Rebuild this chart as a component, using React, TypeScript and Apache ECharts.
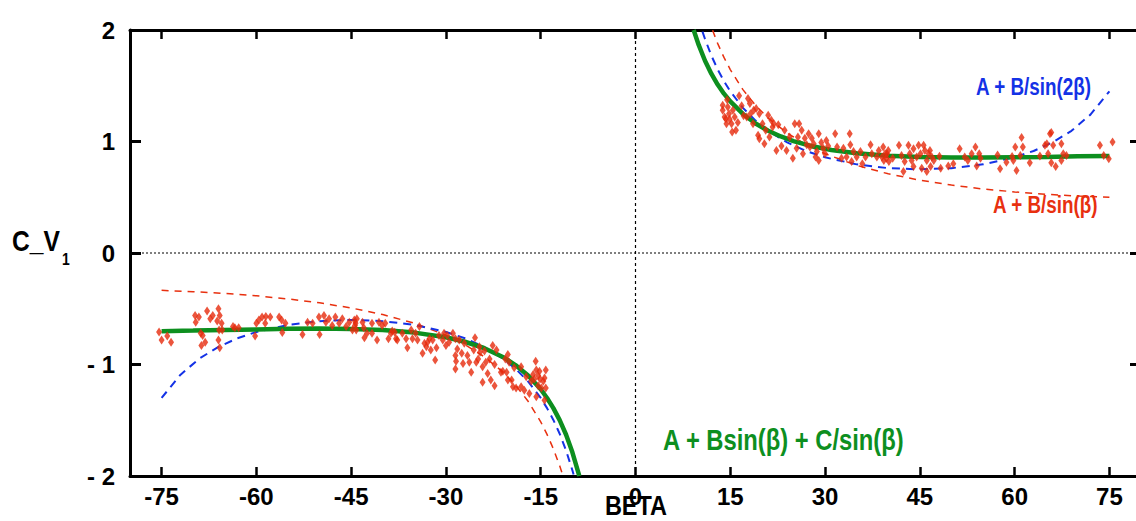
import React, { useEffect, useRef } from "react";
import * as echarts from "echarts";

const xTicks = [-75, -60, -45, -30, -15, 0, 15, 30, 45, 60, 75];
const yTicks = [-2, -1, 0, 1, 2];
const yInnerTicks = [-1, 0, 1];

// fit A + Bsin(b) + C/sin(b)
const greenLeft = [
  [-75, -0.701], [-70, -0.696], [-65, -0.69], [-60, -0.685], [-55, -0.68], [-50, -0.678],
  [-45, -0.681], [-40, -0.691], [-35, -0.714], [-30, -0.756], [-27, -0.796], [-24, -0.852],
  [-21, -0.932], [-19, -1.005], [-17, -1.099], [-15, -1.222], [-14, -1.3], [-13, -1.391],
  [-12, -1.499], [-11, -1.628], [-10, -1.785], [-9, -1.979], [-8.9, -2.0],
];
const greenRight = [
  [9.2, 2.0], [10, 1.866], [11, 1.724], [12, 1.608], [13, 1.511], [14, 1.429], [15, 1.36],
  [17, 1.247], [19, 1.162], [21, 1.096], [23, 1.045], [25, 1.004], [28, 0.957], [31, 0.924],
  [35, 0.894], [40, 0.872], [45, 0.86], [50, 0.856], [55, 0.856], [60, 0.859], [65, 0.862],
  [70, 0.867], [75, 0.87],
];
// fit A + B/sin(2b)
const blueLeft = [
  [-75, -1.3], [-72, -1.091], [-69, -0.946], [-66, -0.842], [-63, -0.765], [-60, -0.708],
  [-55, -0.645], [-50, -0.611], [-45, -0.6], [-40, -0.611], [-35, -0.645], [-30, -0.708],
  [-27, -0.765], [-24, -0.842], [-21, -0.946], [-19, -1.037], [-17, -1.152], [-15, -1.3],
  [-14, -1.391], [-13, -1.497], [-12, -1.621], [-11, -1.769], [-10, -1.947], [-9.8, -1.986],
];
const blueRight = [
  [10.6, 1.986], [11, 1.919], [12, 1.771], [13, 1.647], [14, 1.541], [15, 1.45], [17, 1.302],
  [19, 1.187], [21, 1.096], [24, 0.992], [27, 0.915], [30, 0.858], [35, 0.795], [40, 0.761],
  [45, 0.75], [50, 0.761], [55, 0.795], [60, 0.858], [63, 0.915], [66, 0.992], [69, 1.096],
  [72, 1.241], [75, 1.45],
];
// fit A + B/sin(b)
const redLeft = [
  [-75, -0.335], [-70, -0.347], [-65, -0.363], [-60, -0.384], [-55, -0.412], [-50, -0.447],
  [-45, -0.493], [-40, -0.552], [-35, -0.63], [-30, -0.737], [-27, -0.822], [-24, -0.928],
  [-21, -1.066], [-19, -1.184], [-17, -1.329], [-15, -1.514], [-14, -1.627], [-13, -1.756],
  [-12, -1.909], [-11.5, -1.994],
];
const redRight = [
  [12.2, 1.997], [13, 1.88], [14, 1.754], [15, 1.645], [17, 1.465], [19, 1.324], [21, 1.21],
  [24, 1.076], [27, 0.972], [30, 0.89], [35, 0.786], [40, 0.71], [45, 0.653], [50, 0.609],
  [55, 0.574], [60, 0.548], [65, 0.527], [70, 0.511], [75, 0.499],
];

const dataLeft = [
  [-75.4, -0.708], [-75.0, -0.78], [-74.1, -0.745], [-73.5, -0.8], [-69.7, -0.56], [-69.6, -0.62],
  [-69.1, -0.574], [-68.8, -0.72], [-68.5, -0.74], [-68.7, -0.83], [-68.1, -0.8], [-67.8, -0.52],
  [-67.3, -0.59], [-66.9, -0.56], [-66.0, -0.5], [-65.8, -0.56], [-66.2, -0.61], [-65.5, -0.63],
  [-65.9, -0.69], [-65.4, -0.69], [-66.0, -0.78], [-65.8, -0.85], [-63.7, -0.66], [-63.4, -0.67],
  [-62.8, -0.67], [-60.0, -0.63], [-59.6, -0.6], [-59.1, -0.574], [-58.5, -0.57], [-57.8, -0.574],
  [-60.2, -0.745], [-58.6, -0.63], [-56.4, -0.574], [-56.0, -0.6], [-55.9, -0.714], [-55.4, -0.63],
  [-52.7, -0.73], [-51.9, -0.62], [-51.1, -0.63], [-50.1, -0.574], [-50.0, -0.73], [-49.3, -0.56],
  [-49.0, -0.62], [-48.5, -0.59], [-48.0, -0.65], [-47.5, -0.574], [-46.9, -0.63], [-46.4, -0.59],
  [-45.8, -0.66], [-45.3, -0.62], [-44.8, -0.69], [-44.3, -0.63], [-44.1, -0.59], [-44.5, -0.6],
  [-44.4, -0.65], [-44.2, -0.69], [-43.2, -0.62], [-43.0, -0.67], [-42.9, -0.76], [-42.5, -0.72],
  [-41.7, -0.63], [-41.7, -0.72], [-40.9, -0.78], [-40.6, -0.62], [-40.1, -0.65], [-39.6, -0.63],
  [-39.1, -0.77], [-38.7, -0.72], [-38.5, -0.7], [-38.1, -0.71], [-37.9, -0.77], [-37.7, -0.78],
  [-36.9, -0.72], [-36.3, -0.77], [-36.1, -0.85], [-35.5, -0.69], [-35.3, -0.77], [-34.8, -0.72],
  [-34.5, -0.78], [-34.2, -0.66], [-33.7, -0.9], [-33.4, -0.81], [-33.1, -0.84], [-32.9, -0.8],
  [-32.6, -0.77], [-32.4, -0.87], [-32.1, -0.78], [-31.7, -0.96], [-31.5, -0.85], [-31.1, -0.74],
  [-30.5, -0.78], [-30.3, -0.72], [-30.0, -0.83], [-29.8, -0.74], [-29.5, -0.8], [-28.9, -0.72],
  [-28.5, -0.77], [-28.5, -0.92], [-28.4, -0.97], [-28.5, -1.04], [-28.2, -0.86], [-27.9, -0.78],
  [-27.5, -0.9], [-27.3, -0.99], [-27.1, -0.81], [-26.6, -0.92], [-26.3, -0.98], [-26.0, -1.07],
  [-25.6, -0.87], [-25.4, -0.76], [-25.2, -0.98], [-24.9, -0.95], [-24.7, -0.84], [-24.6, -0.89],
  [-24.2, -1.02], [-24.2, -1.16], [-23.9, -0.88], [-23.7, -0.98], [-23.4, -1.08], [-23.1, -0.95],
  [-22.9, -1.14], [-22.6, -0.83], [-22.3, -1.0], [-22.3, -1.19], [-22.0, -0.87], [-21.3, -1.07],
  [-21.0, -1.06], [-20.6, -0.95], [-20.4, -1.07], [-20.2, -0.91], [-20.2, -1.14], [-20.0, -0.98],
  [-19.6, -1.14], [-19.4, -1.2], [-19.2, -1.03], [-18.9, -1.21], [-18.1, -1.02], [-18.1, -1.2],
  [-17.6, -1.23], [-17.3, -1.11], [-16.8, -1.26], [-16.5, -1.15], [-16.2, -1.09], [-16.0, -1.13],
  [-15.8, -0.97], [-15.7, -1.05], [-15.4, -1.1], [-15.4, -1.19], [-15.2, -1.06], [-15.1, -1.13],
  [-14.9, -1.21], [-14.6, -1.15], [-14.4, -1.12], [-14.2, -1.05], [-14.2, -1.21], [-15.7, -1.29],
  [-14.4, -1.32],
];

const dataRight = [
  [13.8, 1.325], [13.8, 1.28], [14.1, 1.22], [14.3, 1.205], [14.4, 1.16], [14.6, 1.31], [14.8, 1.25],
  [14.9, 1.2], [15.2, 1.16], [15.3, 1.085], [14.5, 1.375], [15.4, 1.28], [15.7, 1.22], [15.9, 1.1],
  [16.2, 1.17], [16.4, 1.41], [16.8, 1.32], [17.1, 1.23], [17.6, 1.22], [17.8, 1.385], [18.1, 1.34],
  [18.2, 1.25], [18.6, 1.16], [18.7, 1.28], [19.1, 1.295], [19.6, 1.25], [19.4, 1.055], [19.6, 1.025],
  [20.1, 1.16], [20.4, 0.98], [20.6, 1.1], [21.0, 1.235], [21.2, 1.04], [21.5, 1.19], [21.7, 1.13],
  [21.9, 1.16], [22.3, 0.92], [22.6, 1.15], [23.1, 0.96], [23.6, 1.1], [23.9, 0.92], [24.4, 1.04],
  [24.9, 0.85], [25.2, 1.16], [25.5, 0.94], [25.7, 1.04], [25.9, 1.16], [26.3, 1.1], [26.5, 0.89],
  [26.8, 1.03], [27.1, 0.97], [27.4, 1.07], [27.6, 0.95], [27.9, 1.03], [28.2, 0.98], [28.5, 0.86],
  [28.7, 0.91], [29.0, 1.07], [29.0, 0.83], [29.4, 0.99], [29.7, 0.94], [30.0, 0.89], [30.2, 1.01],
  [30.5, 0.96], [31.6, 1.07], [31.9, 0.95], [32.6, 0.85], [32.9, 0.94], [33.4, 0.86], [33.9, 1.07],
  [34.0, 0.97], [34.2, 0.82], [34.5, 0.91], [35.0, 0.86], [35.6, 0.91], [35.9, 0.8], [36.4, 0.86],
  [37.2, 0.97], [37.4, 0.89], [38.2, 0.86], [38.5, 0.92], [39.0, 0.86], [39.3, 0.83], [39.8, 0.89],
  [40.1, 0.82], [39.2, 0.95], [39.5, 0.89], [39.7, 0.85], [40.0, 0.92], [40.7, 0.85], [41.7, 0.966],
  [42.1, 0.875], [42.4, 0.73], [42.6, 0.82], [43.2, 0.966], [43.4, 0.89], [43.7, 0.83], [44.0, 0.935],
  [44.0, 0.775], [44.5, 0.86], [44.8, 0.966], [45.1, 0.89], [45.3, 0.76], [45.6, 0.966], [45.8, 0.92],
  [46.1, 0.83], [46.4, 0.89], [46.1, 0.73], [46.6, 0.92], [46.7, 0.775], [46.9, 0.86], [47.2, 0.83],
  [48.1, 0.867], [48.3, 0.76], [49.5, 0.78], [50.3, 0.8], [51.3, 0.935], [52.1, 0.86], [52.6, 0.83],
  [53.2, 0.89], [53.8, 0.95], [54.0, 0.78], [54.4, 0.89], [54.6, 0.85], [57.3, 0.88], [57.7, 0.755],
  [58.7, 0.815], [59.6, 0.865], [59.8, 0.83], [60.1, 0.95], [60.3, 0.74], [60.9, 0.875], [61.1, 1.035],
  [61.3, 0.95], [62.4, 0.81], [64.0, 0.87], [64.8, 0.966], [65.1, 0.98], [65.3, 0.89], [65.6, 1.07],
  [65.8, 1.08], [65.8, 0.81], [66.1, 0.966], [66.5, 0.775], [67.4, 0.98], [67.4, 0.83], [67.7, 0.89],
  [68.2, 0.875], [73.5, 0.966], [74.1, 0.875], [74.9, 0.845], [75.5, 0.995],
];

const zeroH = [[-80, 0], [80, 0]];
const zeroV = [[0, -2], [0, 2]];

const GREEN = "#0d8f1f";
const BLUE = "#1432e6";
const RED = "#e8300f";
const DOT = "#e62a0c";
const FONT = '"Liberation Sans", Arial, sans-serif';
const NARROW_SCALE = 0.82;

export default function App() {
  const ref = useRef<HTMLDivElement>(null);
  useEffect(() => {
    if (!ref.current) return;
    const chart = echarts.init(ref.current, null, { renderer: "svg" });
    const axisLine = { show: true, onZero: false, lineStyle: { color: "#000", width: 3 } };
    const labelStyle = { fontFamily: FONT, fontWeight: "bold" as const, fontSize: 24, color: "#000" };
    const lineSeries = (data: number[][], color: string, width: number, type: any, z = 2) => ({
      type: "line",
      data,
      showSymbol: false,
      symbol: "none",
      smooth: false,
      lineStyle: { color, width, type },
      z,
      silent: true,
    });
    const narrowText = (
      text: string, x: number, y: number, size: number, fill: string,
      align = "left", vAlign = "middle", scaleX = NARROW_SCALE,
    ) => ({
      type: "text",
      x,
      y,
      scaleX,
      style: { text, fill, font: `bold ${size}px ${FONT}`, verticalAlign: vAlign, align },
    });
    chart.setOption({
      animation: false,
      backgroundColor: "#fff",
      grid: { left: 130, top: 30, width: 1011, height: 446 },
      xAxis: [
        {
          type: "value",
          min: -80,
          max: 80,
          interval: 5,
          position: "bottom",
          axisLine,
          splitLine: { show: false },
          axisTick: { show: true, inside: true, length: 9, customValues: xTicks, lineStyle: { color: "#000", width: 2.5 } },
          axisLabel: { ...labelStyle, margin: 8, customValues: xTicks, formatter: (v: number) => String(v) },
        },
        {
          type: "value",
          min: -80,
          max: 80,
          interval: 5,
          position: "top",
          axisLine,
          splitLine: { show: false },
          axisTick: { show: true, inside: true, length: 9, customValues: xTicks, lineStyle: { color: "#000", width: 2.5 } },
          axisLabel: { show: false },
        },
      ],
      yAxis: [
        {
          type: "value",
          min: -2,
          max: 2,
          interval: 1,
          position: "left",
          axisLine,
          splitLine: { show: false },
          axisTick: { show: true, inside: true, length: 11, customValues: yInnerTicks, lineStyle: { color: "#000", width: 3 } },
          axisLabel: {
            ...labelStyle,
            margin: 15,
            customValues: yTicks,
            formatter: (v: number) => (v < 0 ? "- " + Math.abs(v) : String(v)),
          },
        },
        {
          type: "value",
          min: -2,
          max: 2,
          interval: 1,
          position: "right",
          axisLine,
          splitLine: { show: false },
          axisTick: { show: true, inside: true, length: 11, customValues: yInnerTicks, lineStyle: { color: "#000", width: 3 } },
          axisLabel: { show: false },
        },
      ],
      series: [
        lineSeries(zeroH, "#000", 1.2, [2, 2], 1),
        lineSeries(zeroV, "#000", 1.2, [3, 3], 1),
        lineSeries(redLeft, RED, 1.5, [7, 6]),
        lineSeries(redRight, RED, 1.5, [7, 6]),
        lineSeries(blueLeft, BLUE, 2, [8, 6]),
        lineSeries(blueRight, BLUE, 2, [8, 6]),
        lineSeries(greenLeft, GREEN, 4.5, "solid", 3),
        lineSeries(greenRight, GREEN, 4.5, "solid", 3),
        {
          type: "scatter",
          data: dataLeft,
          symbol: "diamond",
          symbolSize: [6, 9],
          itemStyle: { color: DOT },
          z: 4,
          silent: true,
        },
        {
          type: "scatter",
          data: dataRight,
          symbol: "diamond",
          symbolSize: [6, 9],
          itemStyle: { color: DOT },
          z: 4,
          silent: true,
        },
      ],
      graphic: [
        narrowText("A + B/sin(2β)", 976, 87, 23, BLUE),
        narrowText("A + B/sin(β)", 993, 205, 23, RED),
        narrowText("A + Bsin(β) + C/sin(β)", 663, 440, 29, GREEN),
        narrowText("C_V", 12, 241, 30, "#000"),
        narrowText("1", 62, 259, 17, "#000"),
        narrowText("BETA", 636, 519, 27, "#000", "center", "bottom", 0.87),
      ],
    });
    return () => chart.dispose();
  }, []);
  return (
    <div style={{ position: "fixed", left: 0, top: 0, width: 1136, height: 521, overflow: "hidden", background: "#fff" }}>
      <div ref={ref} style={{ width: 1150, height: 521 }} />
    </div>
  );
}
